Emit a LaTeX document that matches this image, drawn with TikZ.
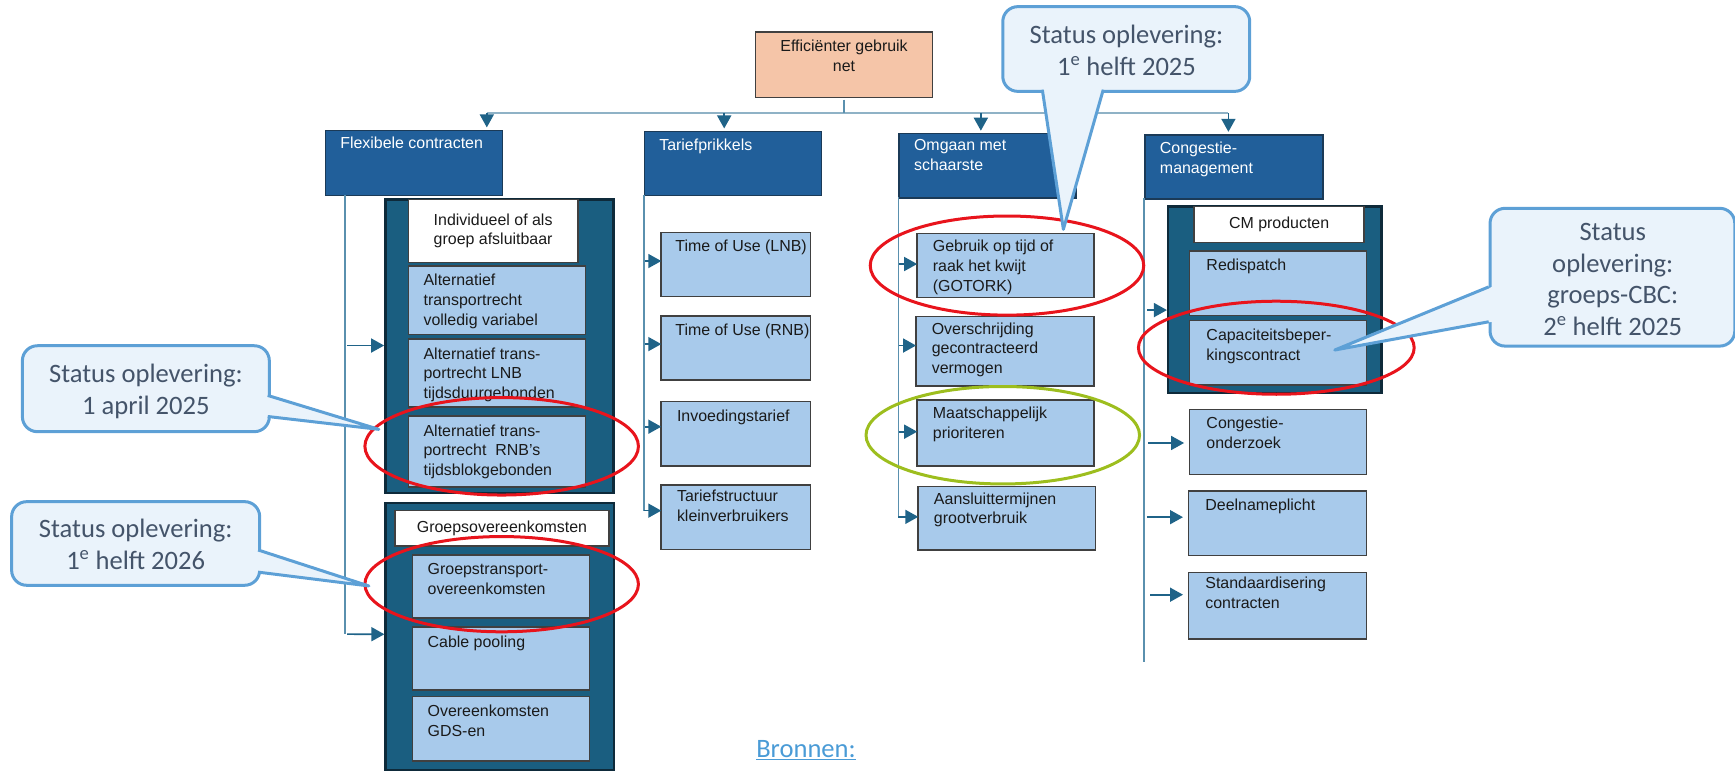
\documentclass[tikz,border=0pt]{standalone}
\usepackage{fontspec}
\setmainfont{Liberation Sans}
\newfontfamily\calfont{Carlito}
\usetikzlibrary{arrows.meta,shapes.geometric}
\definecolor{hdr}{HTML}{215F9A}
\definecolor{hdrline}{HTML}{1B3A57}
\definecolor{cont}{HTML}{1A5E80}
\definecolor{contline}{HTML}{0E2A3A}
\definecolor{lblue}{HTML}{A8CAEB}
\definecolor{boxline}{HTML}{404040}
\definecolor{peach}{HTML}{F5C5A8}
\definecolor{connc}{HTML}{5A90AE}
\definecolor{hlinec}{HTML}{8FB2C6}
\definecolor{arrc}{HTML}{1F6388}
\definecolor{calfill}{HTML}{EAF3FB}
\definecolor{calline}{HTML}{5DA0D6}
\definecolor{caltext}{HTML}{44546A}
\definecolor{redE}{HTML}{E8141C}
\definecolor{greenE}{HTML}{9DBE1E}
\definecolor{txtc}{HTML}{1A1A1A}
\definecolor{linkc}{HTML}{4A9BD6}
\newcommand\lbx[5]{\node[lbox,minimum width=#4,minimum height=#5,anchor=north west] (#1) at (#2,#3) {};}
\begin{document}
\begin{tikzpicture}[x=1pt,y=-1pt,scale=1.1074,every node/.append style={transform shape},
  box/.style={draw=boxline,line width=1.5pt,inner sep=0pt,outer sep=0pt},
  lbox/.style={box,fill=lblue},
  wbox/.style={box,fill=white},
  hbox/.style={draw=hdrline,fill=hdr,line width=1.5pt,inner sep=0pt,anchor=north west},
  cbox/.style={draw=contline,fill=cont,line width=2.5pt,inner sep=0pt,anchor=north west},
  btxt/.style={font=\fontsize{14.4}{17.8}\selectfont,text=txtc,align=left,inner sep=0pt,anchor=north west},
  ctxt/.style={font=\fontsize{14.4}{17.8}\selectfont,text=txtc,align=center,inner sep=0pt},
  htxt/.style={font=\fontsize{14.4}{18}\selectfont,text=white,align=left,inner sep=0pt,anchor=north west},
  conn/.style={draw=connc,line width=1.6pt},
  arr/.style={draw=arrc,line width=1.7pt,-{Triangle[width=14pt,length=13pt,color=arrc]}},
  calbox/.style={draw=calline,fill=calfill,line width=3pt,rounded corners=15pt,inner sep=0pt,anchor=north west},
  caltxt/.style={font=\calfont\fontsize{24}{29}\selectfont,text=caltext,align=center,inner sep=0pt},
  calside/.style={draw=calline,line width=3pt,line join=round},
  ringR/.style={ellipse,draw=redE,line width=3pt,inner sep=0pt},
  ringG/.style={ellipse,draw=greenE,line width=3pt,inner sep=0pt}]
\useasboundingbox (0,0) rectangle (1566.7,696.2);

% top box
\node[box,fill=peach,minimum width=160,minimum height=59,anchor=north west] (eff) at (682,29) {};
\node[ctxt,font=\fontsize{14.4}{18}\selectfont,anchor=north] (efft) at ([yshift=-7pt]eff.north) {Efficiënter gebruik\\net};

% headers
\node[hbox,minimum width=160,minimum height=59] (flex) at (293,117) {};
\node[htxt] (flext) at ([xshift=14pt,yshift=-6pt]flex.north west) {Flexibele contracten};
\node[hbox,minimum width=160,minimum height=58] (tarf) at (581,118) {};
\node[htxt] (tarft) at ([xshift=14pt,yshift=-7pt]tarf.north west) {Tariefprikkels};
\node[hbox,minimum width=160,minimum height=58] (omg) at (811,120) {};
\node[htxt] (omgt) at ([xshift=14pt,yshift=-6pt]omg.north west) {Omgaan met\\schaarste};
\node[hbox,minimum width=161,minimum height=58] (cong) at (1033,121) {};
\node[htxt] (congt) at ([xshift=14pt,yshift=-7pt]cong.north west) {Congestie-\\management};

% top connectors
\coordinate (hl) at (439.5,102);
\coordinate (hr) at (1109,102);
\coordinate (h2) at (653.8,102);
\coordinate (h3) at (885.5,102);
\draw[draw=hlinec,line width=2pt] (hl) -- (hr);
\draw[conn] ([yshift=-2pt]eff.south) -- (eff.south |- hl);
\draw[arr] (hl) -- ([yshift=2pt]hl |- flex.north);
\draw[arr] (h2) -- ([yshift=2pt]h2 |- tarf.north);
\draw[arr] (h3) -- ([yshift=2pt]h3 |- omg.north);
\draw[arr] (hr) -- ([yshift=2pt]hr |- cong.north);

% column 1
\node[cbox,minimum width=206,minimum height=265] (c1) at (346.8,179) {};
\node[wbox,minimum width=153,minimum height=57,anchor=north west] (ind) at (368.7,180) {};
\node[ctxt] (indt) at (ind.center) {Individueel of als\\groep afsluitbaar};
\lbx{a1}{368.7}{240}{160}{62}
\node[btxt] (a1t) at ([xshift=13.5pt,yshift=-7.5pt]a1.north west) {Alternatief\\transportrecht\\volledig variabel};
\lbx{a2}{368.7}{306}{160}{61.5}
\node[btxt] (a2t) at ([xshift=13.5pt,yshift=-7.5pt]a2.north west) {Alternatief trans-\\portrecht LNB\\tijdsduurgebonden};
\lbx{a3}{368.7}{375.7}{160}{64}
\node[btxt] (a3t) at ([xshift=13.5pt,yshift=-7.5pt]a3.north west) {Alternatief trans-\\portrecht\ \ RNB’s\\tijdsblokgebonden};
\node[cbox,minimum width=206,minimum height=241.5] (c2) at (347,453) {};
\node[wbox,minimum width=193,minimum height=32,anchor=north west] (grp) at (356.7,461) {};
\node[ctxt] (grpt) at (grp.center) {Groepsovereenkomsten};
\lbx{g1}{372.4}{501}{160}{57}
\node[btxt] (g1t) at ([xshift=13.5pt,yshift=-7.5pt]g1.north west) {Groepstransport-\\overeenkomsten};
\lbx{g2}{372.4}{566}{160}{57}
\node[btxt] (g2t) at ([xshift=13.5pt,yshift=-7.5pt]g2.north west) {Cable pooling};
\lbx{g3}{372.4}{629}{160}{58}
\node[btxt] (g3t) at ([xshift=13.5pt,yshift=-7.5pt]g3.north west) {Overeenkomsten\\GDS-en};
\coordinate (v1top) at (311.6,176);
\coordinate (v1bot) at (311.6,572.6);
\draw[conn] (v1top) -- (v1bot);
\draw[arr] (313.5,312) -- (c1.west |- 0,312);
\draw[arr] (313.5,572.6) -- (c2.west |- v1bot);

% column 2
\lbx{t1}{597}{209.8}{135}{58}
\node[btxt] (t1t) at ([xshift=12.5pt,yshift=-7pt]t1.north west) {Time of Use (LNB)};
\lbx{t2}{597}{285.4}{135}{57.6}
\node[btxt] (t2t) at ([xshift=12.5pt,yshift=-7pt]t2.north west) {Time of Use (RNB)};
\lbx{t3}{597}{362.7}{135}{58}
\node[btxt] (t3t) at ([xshift=14pt,yshift=-7pt]t3.north west) {Invoedingstarief};
\lbx{t4}{597}{438}{135}{58}
\node[btxt] (t4t) at ([xshift=14pt,yshift=-4pt]t4.north west) {Tariefstructuur\\kleinverbruikers};
\coordinate (v2top) at (581.5,176);
\coordinate (v2bot) at (581.5,461);
\draw[conn] (v2top) -- (v2bot);
\draw[arr] (582,235.7) -- (t1.west |- 0,235.7);
\draw[arr] (582,310.7) -- (t2.west |- 0,310.7);
\draw[arr] (582,385.3) -- (t3.west |- 0,385.3);
\draw[arr] (v2bot) -- (t4.west |- v2bot);

% column 3
\lbx{o1}{828}{210.7}{160}{57.8}
\node[btxt] (o1t) at ([xshift=14pt,yshift=-6pt]o1.north west) {Gebruik op tijd of\\raak het kwijt\\(GOTORK)};
\lbx{o2}{827}{286}{161}{62.6}
\node[btxt] (o2t) at ([xshift=14pt,yshift=-5pt]o2.north west) {Overschrijding\\gecontracteerd\\vermogen};
\lbx{o3}{828}{361}{160}{59.8}
\node[btxt] (o3t) at ([xshift=14pt,yshift=-6pt]o3.north west) {Maatschappelijk\\prioriteren};
\lbx{o4}{829}{439.5}{160}{57}
\node[btxt] (o4t) at ([xshift=14pt,yshift=-5pt]o4.north west) {Aansluittermijnen\\grootverbruik};
\coordinate (v3top) at (811,178);
\coordinate (v3bot) at (811,466.6);
\draw[conn] (v3top) -- (v3bot);
\draw[arr] (811.5,238.4) -- (o1.west |- 0,238.4);
\draw[arr] (811.5,312) -- (o2.west |- 0,312);
\draw[arr] (811.5,389.8) -- (o3.west |- 0,389.8);
\draw[arr] (v3bot) -- (o4.west |- v3bot);

% column 4
\node[cbox,minimum width=192.5,minimum height=168.7] (cm) at (1053.5,185) {};
\node[wbox,minimum width=153.6,minimum height=32.4,anchor=north west] (cmw) at (1078,186.6) {};
\node[ctxt] (cmwt) at (cmw.center) {CM producten};
\lbx{r1}{1074}{226.7}{160}{58.3}
\node[btxt] (r1t) at ([xshift=15pt,yshift=-7pt]r1.north west) {Redispatch};
\lbx{r2}{1074}{289.6}{160}{58}
\node[btxt] (r2t) at ([xshift=15pt,yshift=-7pt]r2.north west) {Capaciteitsbeper-\\kingscontract};
\lbx{k1}{1074}{369.6}{160}{58.7}
\node[btxt] (k1t) at ([xshift=15pt,yshift=-7pt]k1.north west) {Congestie-\\onderzoek};
\lbx{k2}{1073}{443.4}{161}{58.4}
\node[btxt] (k2t) at ([xshift=15pt,yshift=-7pt]k2.north west) {Deelnameplicht};
\lbx{k3}{1073}{516.8}{161}{60}
\node[btxt] (k3t) at ([xshift=15pt,yshift=-4pt]k3.north west) {Standaardisering\\contracten};
\coordinate (v4top) at (1033,179);
\coordinate (v4bot) at (1033,598);
\draw[conn] (v4top) -- (v4bot);
\draw[arr] (1036,280) -- (cm.west |- 0,280);
\draw[arr] (1037,400) -- ([xshift=-5pt]k1.west |- 0,400);
\draw[arr] (1035.5,467) -- ([xshift=-5pt]k2.west |- 0,467);
\draw[arr] (1038.5,537) -- ([xshift=-5pt]k3.west |- 0,537);

% ellipses
\node[ringR,minimum width=247,minimum height=88] (e1) at (453,403) {};
\node[ringR,minimum width=247,minimum height=86] (e2) at (453,527.5) {};
\node[ringR,minimum width=247,minimum height=89.5] (e3) at (909.3,239.8) {};
\node[ringR,minimum width=249,minimum height=84] (e4) at (1152.5,314) {};
\node[ringG,minimum width=247,minimum height=88] (e5) at (905.5,393) {};

% callout A (top)
\node[calbox,minimum width=223,minimum height=76.5] (cA) at (904,4.5) {};
\coordinate (cAb1) at (941,81);
\coordinate (cAb2) at (996,81);
\coordinate (cAtip) at (960,207);
\fill[calfill] ([yshift=3pt]cAb1) -- (cAtip) -- ([yshift=3pt]cAb2) -- cycle;
\draw[calside] (cAb1) -- (cAtip) -- (cAb2);
\node[caltxt] (cAt) at ([yshift=-1.5pt]cA.center) {Status oplevering:\\1\textsuperscript{e} helft 2025};

% callout B
\node[calbox,minimum width=223,minimum height=77.6] (cB) at (18.7,310.7) {};
\coordinate (cBb1) at (241.7,357);
\coordinate (cBb2) at (241.7,376);
\coordinate (cBtip) at (342,387.6);
\fill[calfill] ([xshift=-3pt]cBb1) -- (cBtip) -- ([xshift=-3pt]cBb2) -- cycle;
\draw[calside] (cBb1) -- (cBtip) -- (cBb2);
\node[caltxt] (cBt) at ([yshift=-2pt]cB.center) {Status oplevering:\\1 april 2025};

% callout C
\node[calbox,minimum width=224,minimum height=75.5] (cC) at (9,451.5) {};
\coordinate (cCb1) at (233,496.5);
\coordinate (cCb2) at (233,516.5);
\coordinate (cCtip) at (333,529);
\fill[calfill] ([xshift=-3pt]cCb1) -- (cCtip) -- ([xshift=-3pt]cCb2) -- cycle;
\draw[calside] (cCb1) -- (cCtip) -- (cCb2);
\node[caltxt] (cCt) at ([yshift=-1pt]cC.center) {Status oplevering:\\1\textsuperscript{e} helft 2026};

% callout D
\node[calbox,minimum width=221,minimum height=124.4] (cD) at (1344,186.6) {};
\coordinate (cDb1) at (1344,259);
\coordinate (cDb2) at (1344,290.5);
\coordinate (cDtip) at (1205,316);
\fill[calfill] ([xshift=3pt]cDb1) -- (cDtip) -- ([xshift=3pt]cDb2) -- cycle;
\draw[calside] (cDb1) -- (cDtip) -- (cDb2);
\node[caltxt,font=\calfont\fontsize{24}{28.6}\selectfont] (cDt) at ([yshift=-2pt]cD.center) {Status\\oplevering:\\groeps-CBC:\\2\textsuperscript{e} helft 2025};

% sources
\node[font=\calfont\fontsize{24}{28}\selectfont,text=linkc,anchor=base west,inner sep=0pt] (bron) at (682.7,684) {\underline{Bronnen:}};
\end{tikzpicture}
\end{document}
